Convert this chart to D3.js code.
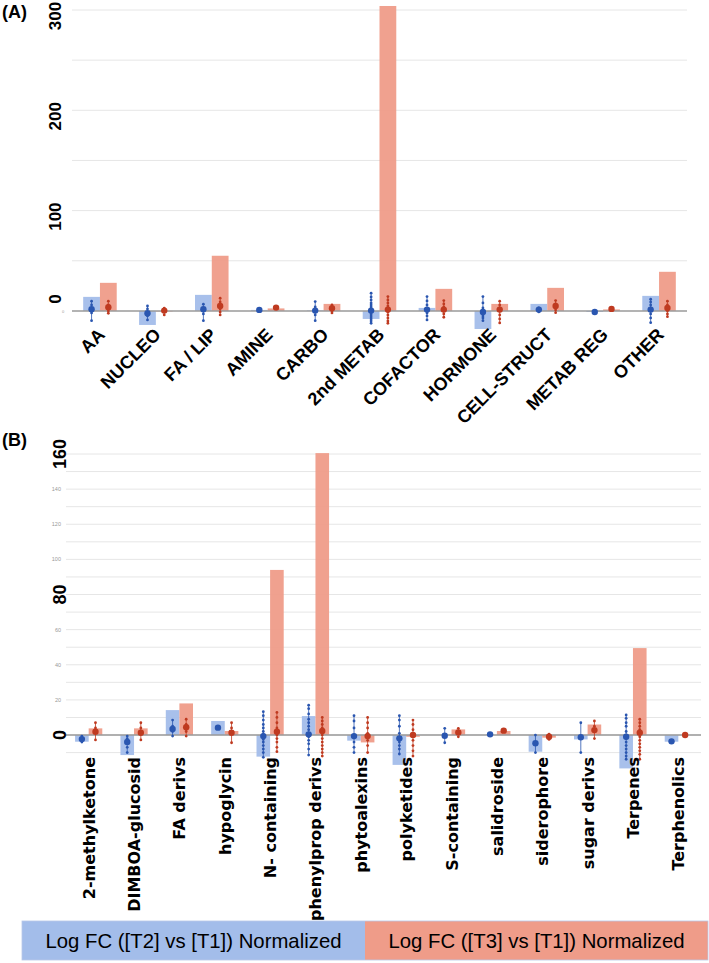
<!DOCTYPE html>
<html><head><meta charset="utf-8">
<script src="https://cdn.jsdelivr.net/npm/d3@7/dist/d3.min.js"></script>
<style>body{margin:0;background:#fff}svg{display:block}</style>
</head><body><svg id="c" width="709" height="963"></svg>
<script>
// ---------- Panel A data ----------
const catsA = ["AA","NUCLEO","FA / LIP","AMINE","CARBO","2nd METAB","COFACTOR","HORMONE","CELL-STRUCT","METAB REG","OTHER"];
const barT2A = [14,-14,16,1,0.5,-8,3,-18,7,-1,15];
const barT3A = [28,-0.5,55,2.5,7,304,22,7,23,1.5,39];
const meanT2A = [1.7,-2.3,1.7,1,0.3,0.3,1.3,-1,1.3,-1,1.3];
const meanT3A = [3.7,0.3,5,3.3,2.7,1.3,1.3,1.3,5,2,3];
const ptsT2A = [[9.7,6,3,0,-2,-9.7],[5,2,-2,-5,-9],[6.7,3,0,-3,-9.7],[1],[9.3,4,0,-4,-9.7],
  [17.7,14,11,8,6,4,2,0,-2,-4,-6,-8,-10,-12.3],[14.3,10,6,2,-2,-5,-9],[14.3,8,3,-2,-5,-7,-9.7],
  [3,1,-1],[-1],[11.7,9,6,3,0,-3,-7,-11.7]];
const ptsT3A = [[9.7,6,3,0,-2.3],[2.7,0,-4],[12.7,9,6,2,-1,-4],[3.3],[6,3,0,-2],
  [14.3,11,8,5,2,-1,-4,-7,-10,-12.3],[10.3,7,4,1,-3,-6.3],[9.7,6,3,0,-4,-8,-12],
  [10.3,7,4,1,-1.7],[2],[9.7,6,3,0,-3,-5.7]];
const ticksA = [0,100,200,300];
const gridA = [50,100,150,200,250,300];

// ---------- Panel B data ----------
const catsB = ["2-methylketone","DIMBOA-glucosid","FA derivs","hypoglycin","N- containing","phenylprop derivs","phytoalexins","polyketides","S-containing","salidroside","siderophore","sugar derivs","Terpenes","Terphenolics"];
const barT2B = [-3.8,-11.4,14.2,8,-12.3,10.8,-3.2,-17,0,0,-9.5,-2.5,-19,-3.8];
const barT3B = [3.8,3.8,18,2.3,94,160.5,-4.2,-1,3.2,2.3,-1.5,6,49.5,0];
const meanT2B = [-2.3,-4,3.4,4.2,-0.6,0.4,-0.6,-1.9,-0.4,0.4,-4.7,-1.3,-1,-3.6];
const meanT3B = [1.9,1.3,4.4,1.3,1.9,2.3,-0.6,0,1.5,2.5,-1,2.8,1.3,0];
const ptsT2B = [[-0.6,-2.3,-4],[-0.6,-2,-4,-7,-10],[8.5,5,2,-0.6],[4.2],
  [13.3,11,8.5,6,4,2,0.5,-1,-2.5,-4,-6,-8,-10,-12.7],[17,15,12,9,7,5,3,1,-1,-3,-5,-8,-11.4],
  [11,8,4,0,-4,-7,-10],[11,8.5,5,1,-1.9,-4,-6,-8,-10.8],[3.8,-0.4,-4.4],[0.4],[0,-4.7,-10],
  [7,-1.3,-10],[11.4,9.5,7,5,2,0,-2,-4,-6,-8,-10,-12,-13.8],[-3.6]];
const ptsT3B = [[7,4,1.9,-2.8],[7,4,1.3,-2.8],[9,6,4.4,2,-0.6],[7,4,1.3,-4.4],
  [12.9,10,7,4,2,0,-2,-4,-7,-9.5],[10,8,6,4,2,0,-2,-4,-6,-8,-10,-12],
  [10,7,4,1,-0.6,-3,-6,-10],[8.5,6,3,0,-3,-6,-9,-12],[3.8,1.5,-1],[2.5],[0.5,-1,-2.5],
  [8,5,2.8,-2],[9,7,5,3,1,-1,-3,-5,-7,-9,-11,-13.8],[0]];
const boldTicksB = [0,80,160];
const smallTicksB = [20,40,60,100,120,140];
const gridB = d3.range(-10,161,10);

const legendLabels = ["Log FC ([T2] vs [T1]) Normalized","Log FC ([T3] vs [T1]) Normalized"];

// ---------- styles ----------
const C = {barB:"#a3bdea", barR:"#ef9c89", dotB:"#2a56b0", dotR:"#bf3a20", grid:"#e6e6e6", zero:"#9a9a9a"};
const svg = d3.select("#c");

function panel(cfg){
  const g = svg.append("g");
  const {x,y,cats,b2,b3,m2,m3,p2,p3,grid} = cfg;
  const [x0,x1] = x.range();
  g.selectAll(".grid").data(grid).join("line")
    .attr("x1",x0).attr("x2",x1).attr("y1",d=>y(d)).attr("y2",d=>y(d))
    .attr("stroke",C.grid).attr("stroke-width",1);
  const bw = x.bandwidth()*0.3;
  const cx = i => x(cats[i]) + x.bandwidth()/2;
  g.selectAll(".b2").data(b2).join("rect")
    .attr("x",(d,i)=>cx(i)-bw).attr("width",bw)
    .attr("y",d=>y(Math.max(0,d))).attr("height",d=>Math.abs(y(d)-y(0)))
    .attr("fill",C.barB).attr("opacity",0.95);
  g.selectAll(".b3").data(b3).join("rect")
    .attr("x",(d,i)=>cx(i)).attr("width",bw)
    .attr("y",d=>y(Math.max(0,d))).attr("height",d=>Math.abs(y(d)-y(0)))
    .attr("fill",C.barR).attr("opacity",0.95);
  g.append("line").attr("x1",x0).attr("x2",x1).attr("y1",y(0)).attr("y2",y(0))
    .attr("stroke",C.zero).attr("stroke-width",1.5);
  function series(pts, means, off, col){
    pts.forEach((arr,i)=>{
      const px = cx(i)+off;
      const lo = d3.min(arr), hi = d3.max(arr);
      if(hi>lo) g.append("line").attr("x1",px).attr("x2",px).attr("y1",y(hi)).attr("y2",y(lo))
        .attr("stroke",col).attr("stroke-width",1).attr("opacity",0.8);
      g.selectAll(null).data(arr).join("circle").attr("cx",px).attr("cy",d=>y(d)).attr("r",1.4).attr("fill",col);
      g.append("circle").attr("cx",px).attr("cy",y(means[i])).attr("r",3.2).attr("fill",col);
    });
  }
  series(p2,m2,-bw/2,C.dotB);
  series(p3,m3,bw/2,C.dotR);
  return g;
}

// ---------- Panel A ----------
const xA = d3.scaleBand().domain(catsA).range([72,687]);
const yA = d3.scaleLinear().domain([-25,300]).range([336,10]);
panel({x:xA,y:yA,cats:catsA,b2:barT2A,b3:barT3A,m2:meanT2A,m3:meanT3A,p2:ptsT2A,p3:ptsT3A,grid:gridA});
svg.append("g").selectAll("text").data(ticksA).join("text")
  .attr("transform",d=>`translate(61,${yA(d)+ (d===0 ? -12 : 6)}) rotate(-90)`)
  .attr("text-anchor","middle").attr("font-family","Liberation Sans, Arial, sans-serif")
  .attr("font-weight","bold").attr("font-size",17).text(d=>d);
svg.append("text").attr("x",63).attr("y",yA(0)+2).attr("font-size",4).attr("fill","#999")
  .attr("text-anchor","middle").attr("font-family","Liberation Sans, Arial, sans-serif").text("0");
svg.append("g").selectAll("text").data(catsA).join("text")
  .attr("transform",d=>`translate(${xA(d)+xA.bandwidth()/2+6},${yA(0)+25}) rotate(-45)`)
  .attr("text-anchor","end").attr("font-family","Liberation Sans, Arial, sans-serif")
  .attr("font-weight","bold").attr("font-size",18).text(d=>d);
svg.append("text").attr("x",2).attr("y",18).attr("font-family","Liberation Sans, Arial, sans-serif")
  .attr("font-weight","bold").attr("font-size",18).text("(A)");

// ---------- Panel B ----------
const xB = d3.scaleBand().domain(catsB).range([66,701]);
const yB = d3.scaleLinear().domain([-10,160]).range([752.6,454]);
panel({x:xB,y:yB,cats:catsB,b2:barT2B,b3:barT3B,m2:meanT2B,m3:meanT3B,p2:ptsT2B,p3:ptsT3B,grid:gridB});
svg.append("g").selectAll("text").data(boldTicksB).join("text")
  .attr("transform",d=>`translate(66,${yB(d)}) rotate(-90)`)
  .attr("text-anchor","middle").attr("font-family","Liberation Sans, Arial, sans-serif")
  .attr("font-weight","bold").attr("font-size",18).text(d=>d);
svg.append("g").selectAll("text").data(smallTicksB).join("text")
  .attr("x",61).attr("y",d=>yB(d)+2).attr("text-anchor","end").attr("fill","#999")
  .attr("font-family","Liberation Sans, Arial, sans-serif").attr("font-size",5.5).text(d=>d);
svg.append("g").selectAll("text").data(catsB).join("text")
  .attr("transform",d=>`translate(${xB(d)+xB.bandwidth()/2+6},757) rotate(-90)`)
  .attr("text-anchor","end").attr("font-family","DejaVu Sans, sans-serif")
  .attr("font-weight","bold").attr("font-size",16).text(d=>d);
svg.append("text").attr("x",2).attr("y",446).attr("font-family","Liberation Sans, Arial, sans-serif")
  .attr("font-weight","bold").attr("font-size",18).text("(B)");

// ---------- Legend ----------
const lx = d3.scaleBand().domain(legendLabels).range([22,708]);
const lg = svg.append("g");
lg.selectAll("rect").data(legendLabels).join("rect")
  .attr("x",d=>lx(d)).attr("y",921).attr("width",lx.bandwidth()).attr("height",39)
  .attr("fill",(d,i)=>i?C.barR:C.barB);
lg.append("rect").attr("x",22).attr("y",921).attr("width",686).attr("height",39)
  .attr("fill","none").attr("stroke","#b8c8e8").attr("stroke-width",0.8);
lg.selectAll("text").data(legendLabels).join("text")
  .attr("x",d=>lx(d)+lx.bandwidth()/2).attr("y",948).attr("text-anchor","middle")
  .attr("font-family","Liberation Sans Narrow, Arial Narrow, sans-serif").attr("font-size",21)
  .attr("textLength",296).attr("lengthAdjust","spacingAndGlyphs").text(d=>d);
</script></body></html>
